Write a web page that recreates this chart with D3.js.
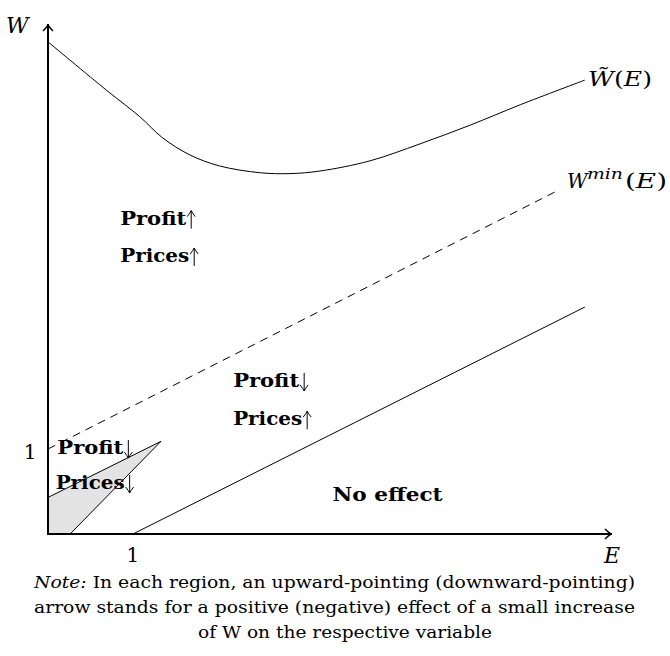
<!DOCTYPE html>
<html>
<head>
<meta charset="utf-8">
<script src="https://cdn.jsdelivr.net/npm/d3@7"></script>
<style>
  body { margin: 0; background: #fff; }
  text { font-family: "DejaVu Serif", "Liberation Serif", serif; fill: #000; }
</style>
</head>
<body>
<div class="container"></div>
<script>
// welfare curve W~(E)
var wTildeE = [0, 0.69, 1.08, 1.35, 1.67, 2.02, 2.5, 2.85, 3.2, 3.79, 4.38, 4.97, 5.56, 6.32];
var wTildeW = [5.79, 5.22, 4.91, 4.66, 4.46, 4.33, 4.25, 4.24, 4.27, 4.39, 4.59, 4.81, 5.05, 5.34];

// W^min(E) dashed line
var wMinE = [0, 6.02];
var wMinW = [1, 4.05];

// no-effect boundary
var noEffE = [1, 6.32];
var noEffW = [0, 2.67];

// shaded region (profit down, prices down)
var shadeE = [0, 0, 1.33, 0.26];
var shadeW = [0, 0.43, 1.09, 0];

var regionLabels = [
  {e: 0.85, w: 3.64, word: "Profit", up: true, len: 66},
  {e: 0.85, w: 3.2, word: "Prices", up: true, len: 69},
  {e: 2.18, w: 1.73, word: "Profit", up: false, len: 66},
  {e: 2.18, w: 1.28, word: "Prices", up: true, len: 69},
  {e: 0.11, w: 0.94, word: "Profit", up: false, len: 66},
  {e: 0.09, w: 0.53, word: "Prices", up: false, len: 69},
  {e: 3.35, w: 0.39, word: "No effect", up: null, len: 110}
];

var noteLines = [
  "In each region, an upward-pointing (downward-pointing)",
  "arrow stands for a positive (negative) effect of a small increase",
  "of W on the respective variable"
];

var width = 670, height = 656;

var svg = d3.select(".container")
  .append("svg")
  .attr("width", width)
  .attr("height", height);

var x = d3.scaleLinear().domain([0, 6.64]).range([48, 612]);
var y = d3.scaleLinear().domain([0, 6]).range([534, 24]);

function pts(es, ws) {
  return es.map(function(e, i) { return [e, ws[i]]; });
}

var line = d3.line().x(function(d) { return x(d[0]); }).y(function(d) { return y(d[1]); });

// shaded triangle
svg.append("path")
  .attr("d", line(pts(shadeE, shadeW)) + "Z")
  .attr("fill", "#e3e3e3")
  .attr("stroke", "#000")
  .attr("stroke-width", 1);

svg.append("path")
  .attr("d", line(pts(noEffE, noEffW)))
  .attr("fill", "none").attr("stroke", "#000").attr("stroke-width", 1);

svg.append("path")
  .attr("d", line(pts(wMinE, wMinW)))
  .attr("fill", "none").attr("stroke", "#000").attr("stroke-width", 1)
  .attr("stroke-dasharray", "8,6");

svg.append("path")
  .attr("d", line.curve(d3.curveCatmullRom.alpha(0.5))(pts(wTildeE, wTildeW)))
  .attr("fill", "none").attr("stroke", "#000").attr("stroke-width", 1);
line.curve(d3.curveLinear);

// axes with arrow tips
var x0 = x(0), y0 = y(0), xEnd = x(6.64), yEnd = y(6);
svg.append("line").attr("x1", x0).attr("y1", y0 + 1).attr("x2", x0).attr("y2", yEnd)
  .attr("stroke", "#000").attr("stroke-width", 2);
svg.append("line").attr("x1", x0 - 1).attr("y1", y0).attr("x2", xEnd).attr("y2", y0)
  .attr("stroke", "#000").attr("stroke-width", 2);
svg.append("path")
  .attr("d", "M" + (x0 - 5) + "," + (yEnd + 7) + " Q" + x0 + "," + (yEnd + 2) + " " + x0 + "," + yEnd +
             " Q" + x0 + "," + (yEnd + 2) + " " + (x0 + 5) + "," + (yEnd + 7))
  .attr("fill", "none").attr("stroke", "#000").attr("stroke-width", 1.5);
svg.append("path")
  .attr("d", "M" + (xEnd - 7) + "," + (y0 - 5) + " Q" + (xEnd - 2) + "," + y0 + " " + xEnd + "," + y0 +
             " Q" + (xEnd - 2) + "," + y0 + " " + (xEnd - 7) + "," + (y0 + 5))
  .attr("fill", "none").attr("stroke", "#000").attr("stroke-width", 1.5);

// axis labels
svg.append("text").attr("x", 6).attr("y", 33).attr("font-size", 22).attr("font-style", "italic")
  .attr("font-family", "Liberation Serif").text("W");
svg.append("text").attr("x", 604).attr("y", 563).attr("font-size", 22).attr("font-style", "italic")
  .attr("font-family", "Liberation Serif").text("E");
svg.append("text").attr("x", x(1)).attr("y", 562).attr("font-size", 20).attr("text-anchor", "middle").text("1");
svg.append("text").attr("x", 30).attr("y", 459).attr("font-size", 20).attr("text-anchor", "middle").text("1");

// curve labels
var lt = svg.append("text").attr("x", 588).attr("y", 86).attr("font-size", 20)
  .attr("textLength", 64).attr("lengthAdjust", "spacingAndGlyphs");
lt.append("tspan").attr("font-style", "italic").text("W\u0303");
lt.append("tspan").text("(");
lt.append("tspan").attr("font-style", "italic").text("E");
lt.append("tspan").text(")");

var lm = svg.append("g");
lm.append("text").attr("x", 567).attr("y", 188).attr("font-size", 20).attr("font-style", "italic").text("W");
lm.append("text").attr("x", 587).attr("y", 179).attr("font-size", 14).attr("font-style", "italic")
  .attr("textLength", 36).attr("lengthAdjust", "spacingAndGlyphs").text("min");
var le = lm.append("text").attr("x", 625).attr("y", 188).attr("font-size", 20)
  .attr("textLength", 42).attr("lengthAdjust", "spacingAndGlyphs");
le.append("tspan").text("(");
le.append("tspan").attr("font-style", "italic").text("E");
le.append("tspan").text(")");

// region labels: bold word, thin arrow drawn as a path
var reg = svg.selectAll(".reg")
  .data(regionLabels)
  .enter().append("g")
  .attr("class", "reg");
reg.append("text")
  .attr("x", function(d) { return x(d.e); })
  .attr("y", function(d) { return y(d.w); })
  .attr("font-size", 18)
  .attr("font-weight", "bold")
  .attr("textLength", function(d) { return d.len; })
  .attr("lengthAdjust", "spacingAndGlyphs")
  .text(function(d) { return d.word; });
reg.filter(function(d) { return d.up !== null; }).append("path")
  .attr("d", function(d) {
    var ax = x(d.e) + d.len + 5, base = y(d.w) + 4, top = base - 18;
    var tip = d.up ? top : base, dir = d.up ? 1 : -1;
    return "M" + ax + "," + base + "V" + top +
      "M" + (ax - 4) + "," + (tip + dir * 6) + "Q" + (ax - 1) + "," + (tip + dir * 2) + " " + ax + "," + tip +
      "Q" + (ax + 1) + "," + (tip + dir * 2) + " " + (ax + 4) + "," + (tip + dir * 6);
  })
  .attr("fill", "none")
  .attr("stroke", "#000")
  .attr("stroke-width", 1);

// note
var note = svg.append("g").attr("class", "note");
var n1 = note.append("text").attr("x", 34).attr("y", 588).attr("font-size", 16)
  .attr("textLength", 601).attr("lengthAdjust", "spacingAndGlyphs");
n1.append("tspan").attr("font-style", "italic").text("Note:");
n1.append("tspan").text(" " + noteLines[0]);
note.append("text").attr("x", 34).attr("y", 613).attr("font-size", 16)
  .attr("textLength", 601).attr("lengthAdjust", "spacingAndGlyphs").text(noteLines[1]);
note.append("text").attr("x", 198).attr("y", 638).attr("font-size", 16)
  .attr("textLength", 294).attr("lengthAdjust", "spacingAndGlyphs").text(noteLines[2]);
</script>
</body>
</html>
